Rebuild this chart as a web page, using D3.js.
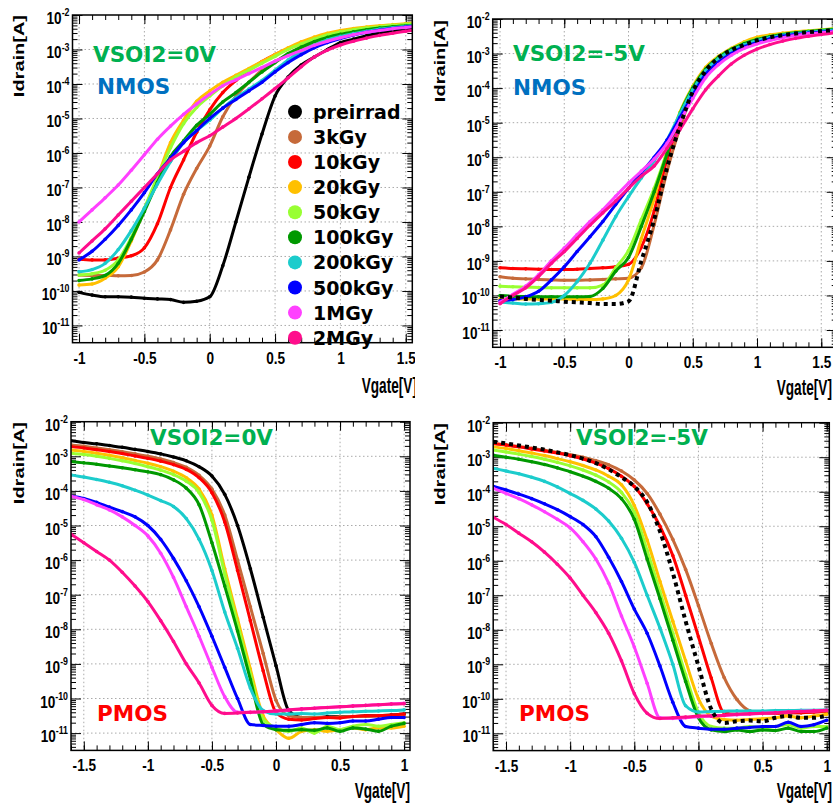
<!DOCTYPE html>
<html>
<head>
<meta charset="utf-8">
<script src="https://cdn.jsdelivr.net/npm/d3@7"></script>
<style>
body { margin: 0; background: #fff; }
</style>
</head>
<body>
<div id="chart"></div>
<script>
var W = 833, H = 806;

// legend / series order
var doses = ["preirrad", "3kGy", "10kGy", "20kGy", "50kGy", "100kGy", "200kGy", "500kGy", "1MGy", "2MGy"];
var doseColors = ["#000000", "#c66a3a", "#ff0000", "#ffc000", "#99ff33", "#009900", "#1ccccc", "#0000ff", "#ff40ff", "#ff0d8c"];

// gate voltage sweeps [V]
var vgateNmos = [-1.0,-0.9,-0.8,-0.7,-0.6,-0.5,-0.4,-0.3,-0.2,-0.1,0.0,0.1,0.2,0.3,0.4,0.5,0.6,0.7,0.8,0.9,1.0,1.1,1.2,1.3,1.4,1.5,1.6];
var vgatePmos = [-1.6,-1.5,-1.4,-1.3,-1.2,-1.1,-1.0,-0.9,-0.8,-0.7,-0.6,-0.5,-0.4,-0.3,-0.2,-0.1,0.0,0.1,0.2,0.3,0.4,0.5,0.6,0.7,0.8,0.9,1.0];

// log10(Idrain [A]), one row per dose (same order as doses)
var logIdNmos0V = [
  [-10.04,-10.12,-10.17,-10.17,-10.18,-10.21,-10.23,-10.25,-10.33,-10.3,-10.17,-9.27,-8.0,-6.7,-5.45,-4.35,-3.8,-3.45,-3.22,-3.0,-2.8,-2.7,-2.6,-2.52,-2.46,-2.4,-2.35],
  [-9.54,-9.55,-9.55,-9.56,-9.55,-9.45,-9.1,-8.23,-7.2,-6.45,-5.8,-4.95,-4.35,-3.95,-3.6,-3.35,-3.15,-2.95,-2.8,-2.7,-2.6,-2.52,-2.46,-2.4,-2.36,-2.32,-2.28],
  [-9.08,-9.1,-9.1,-9.05,-8.98,-8.75,-8.05,-7.0,-6.2,-5.4,-4.75,-4.25,-3.9,-3.6,-3.35,-3.15,-2.98,-2.82,-2.7,-2.6,-2.52,-2.45,-2.4,-2.35,-2.31,-2.28,-2.25],
  [-9.83,-9.8,-9.63,-9.3,-8.55,-7.65,-6.7,-5.7,-5.05,-4.5,-4.2,-3.95,-3.75,-3.55,-3.35,-3.15,-2.95,-2.78,-2.64,-2.53,-2.45,-2.39,-2.35,-2.31,-2.28,-2.25,-2.22],
  [-9.54,-9.5,-9.4,-9.1,-8.45,-7.6,-6.7,-5.85,-5.15,-4.68,-4.35,-4.05,-3.8,-3.6,-3.4,-3.2,-3.0,-2.84,-2.7,-2.58,-2.49,-2.43,-2.38,-2.34,-2.3,-2.27,-2.24],
  [-9.7,-9.65,-9.55,-9.2,-8.5,-7.7,-6.85,-6.1,-5.65,-5.2,-4.88,-4.52,-4.25,-3.95,-3.65,-3.38,-3.12,-2.93,-2.77,-2.65,-2.56,-2.49,-2.43,-2.38,-2.34,-2.31,-2.28],
  [-9.44,-9.38,-9.2,-8.8,-8.25,-7.6,-6.9,-6.25,-5.7,-5.35,-5.05,-4.7,-4.4,-4.15,-3.9,-3.6,-3.3,-3.05,-2.87,-2.72,-2.62,-2.54,-2.47,-2.41,-2.37,-2.33,-2.3],
  [-9.1,-8.85,-8.5,-8.1,-7.65,-7.15,-6.6,-6.15,-5.7,-5.35,-5.0,-4.7,-4.45,-4.2,-3.95,-3.65,-3.38,-3.15,-2.95,-2.8,-2.68,-2.58,-2.5,-2.44,-2.39,-2.35,-2.31],
  [-8.0,-7.65,-7.3,-6.93,-6.5,-6.05,-5.6,-5.22,-4.88,-4.58,-4.3,-4.05,-3.88,-3.7,-3.52,-3.34,-3.18,-3.03,-2.88,-2.76,-2.66,-2.57,-2.5,-2.45,-2.4,-2.36,-2.32],
  [-8.9,-8.55,-8.2,-7.8,-7.4,-7.0,-6.6,-6.2,-5.95,-5.7,-5.5,-5.25,-5.0,-4.72,-4.43,-4.13,-3.82,-3.5,-3.22,-3.02,-2.87,-2.76,-2.67,-2.59,-2.53,-2.47,-2.42]
];

var logIdNmos5V = [
  [-10.03,-10.06,-10.1,-10.13,-10.15,-10.18,-10.2,-10.22,-10.25,-10.25,-10.17,-9.0,-7.8,-6.3,-5.1,-4.1,-3.5,-3.12,-2.9,-2.75,-2.62,-2.53,-2.47,-2.42,-2.38,-2.35,-2.32],
  [-9.46,-9.5,-9.52,-9.54,-9.55,-9.56,-9.56,-9.55,-9.54,-9.52,-9.5,-9.2,-7.95,-6.4,-5.15,-4.15,-3.55,-3.15,-2.92,-2.77,-2.64,-2.55,-2.49,-2.44,-2.4,-2.37,-2.34],
  [-9.2,-9.22,-9.23,-9.24,-9.25,-9.25,-9.24,-9.22,-9.2,-9.17,-9.1,-8.6,-7.55,-6.05,-4.95,-4.08,-3.5,-3.12,-2.9,-2.74,-2.62,-2.53,-2.47,-2.42,-2.38,-2.35,-2.32],
  [-10.1,-10.1,-10.1,-10.1,-10.1,-10.1,-10.12,-10.12,-10.1,-10.0,-9.55,-8.35,-7.2,-5.8,-4.7,-3.95,-3.4,-3.08,-2.85,-2.66,-2.53,-2.46,-2.41,-2.37,-2.34,-2.31,-2.28],
  [-9.73,-9.75,-9.76,-9.77,-9.78,-9.78,-9.78,-9.78,-9.7,-9.2,-8.7,-7.8,-6.9,-5.85,-4.72,-3.98,-3.45,-3.1,-2.87,-2.7,-2.58,-2.5,-2.44,-2.39,-2.35,-2.32,-2.29],
  [-10.0,-10.02,-10.03,-10.04,-10.04,-10.04,-10.04,-10.03,-9.8,-9.3,-8.9,-8.0,-7.0,-5.9,-4.75,-4.0,-3.45,-3.12,-2.88,-2.71,-2.59,-2.51,-2.45,-2.4,-2.36,-2.33,-2.3],
  [-10.2,-10.22,-10.25,-10.24,-10.2,-10.0,-9.6,-9.07,-8.4,-7.72,-7.14,-6.6,-6.1,-5.5,-4.75,-4.05,-3.5,-3.15,-2.92,-2.75,-2.62,-2.54,-2.47,-2.42,-2.38,-2.35,-2.32],
  [-10.15,-10.12,-10.04,-9.88,-9.55,-9.17,-8.73,-8.3,-7.86,-7.37,-6.9,-6.45,-6.0,-5.5,-4.85,-4.2,-3.6,-3.25,-3.0,-2.8,-2.68,-2.58,-2.5,-2.45,-2.41,-2.38,-2.35],
  [-10.2,-9.97,-9.73,-9.4,-9.0,-8.63,-8.24,-7.86,-7.52,-7.13,-6.75,-6.4,-6.05,-5.6,-4.95,-4.3,-3.7,-3.32,-3.05,-2.85,-2.72,-2.62,-2.54,-2.48,-2.43,-2.4,-2.37],
  [-10.24,-10.0,-9.78,-9.45,-9.07,-8.73,-8.35,-7.97,-7.61,-7.27,-6.9,-6.55,-6.25,-5.74,-5.2,-4.6,-4.05,-3.65,-3.3,-3.05,-2.87,-2.74,-2.64,-2.56,-2.5,-2.45,-2.4]
];

var logIdPmos0V = [
  [-2.55,-2.6,-2.64,-2.69,-2.74,-2.8,-2.86,-2.93,-3.02,-3.13,-3.3,-3.57,-4.1,-5.0,-6.25,-7.65,-9.05,-10.35,-10.55,-10.55,-10.53,-10.52,-10.52,-10.5,-10.5,-10.48,-10.45],
  [-2.67,-2.71,-2.76,-2.81,-2.87,-2.93,-3.0,-3.08,-3.18,-3.32,-3.55,-3.95,-4.7,-6.0,-7.35,-8.7,-10.05,-10.5,-10.55,-10.55,-10.55,-10.53,-10.52,-10.52,-10.5,-10.5,-10.5],
  [-2.72,-2.76,-2.81,-2.86,-2.92,-2.99,-3.06,-3.14,-3.24,-3.38,-3.62,-4.05,-4.9,-6.3,-7.75,-9.2,-10.4,-10.6,-10.62,-10.58,-10.55,-10.56,-10.52,-10.5,-10.5,-10.48,-10.45],
  [-2.82,-2.86,-2.91,-2.97,-3.04,-3.12,-3.2,-3.3,-3.43,-3.62,-3.95,-4.7,-6.25,-7.7,-9.15,-10.5,-10.9,-11.15,-10.95,-10.9,-10.95,-10.9,-10.85,-10.9,-10.85,-10.85,-10.8],
  [-2.91,-2.95,-3.0,-3.06,-3.13,-3.21,-3.3,-3.4,-3.53,-3.72,-4.05,-4.85,-6.4,-7.85,-9.3,-10.6,-10.85,-10.95,-10.85,-11.0,-10.8,-10.9,-10.8,-10.75,-10.8,-10.75,-10.7],
  [-3.15,-3.19,-3.23,-3.28,-3.33,-3.39,-3.45,-3.53,-3.68,-3.92,-4.4,-5.5,-6.75,-8.05,-9.45,-10.75,-10.9,-10.92,-10.9,-10.92,-10.85,-10.95,-10.85,-10.88,-10.95,-10.8,-10.72],
  [-3.54,-3.6,-3.67,-3.75,-3.85,-3.98,-4.12,-4.28,-4.45,-4.8,-5.4,-6.3,-7.5,-8.55,-9.7,-10.35,-10.45,-10.45,-10.43,-10.45,-10.42,-10.4,-10.38,-10.37,-10.36,-10.35,-10.33],
  [-4.15,-4.22,-4.33,-4.47,-4.6,-4.75,-5.0,-5.4,-5.95,-6.6,-7.35,-8.2,-9.1,-10.0,-10.75,-10.78,-10.8,-10.8,-10.75,-10.7,-10.72,-10.7,-10.65,-10.65,-10.6,-10.55,-10.55],
  [-4.15,-4.25,-4.4,-4.55,-4.75,-5.0,-5.3,-5.8,-6.5,-7.35,-8.2,-9.1,-9.95,-10.4,-10.4,-10.38,-10.36,-10.33,-10.3,-10.28,-10.26,-10.24,-10.22,-10.2,-10.18,-10.16,-10.14],
  [-5.25,-5.5,-5.75,-6.0,-6.35,-6.75,-7.2,-7.75,-8.35,-9.0,-9.55,-10.2,-10.43,-10.42,-10.4,-10.38,-10.36,-10.33,-10.3,-10.28,-10.26,-10.24,-10.22,-10.2,-10.18,-10.16,-10.15]
];

var logIdPmos5V = [
  [-2.55,-2.6,-2.66,-2.72,-2.78,-2.86,-2.94,-3.04,-3.17,-3.35,-3.58,-3.85,-4.3,-5.15,-6.35,-7.75,-9.05,-10.3,-10.7,-10.65,-10.63,-10.65,-10.55,-10.5,-10.55,-10.55,-10.48],
  [-2.6,-2.64,-2.69,-2.74,-2.8,-2.86,-2.93,-3.0,-3.1,-3.22,-3.4,-3.66,-4.05,-4.65,-5.38,-6.25,-7.3,-8.4,-9.38,-10.02,-10.35,-10.42,-10.42,-10.4,-10.4,-10.38,-10.35],
  [-2.6,-2.65,-2.7,-2.76,-2.82,-2.88,-2.96,-3.05,-3.17,-3.33,-3.55,-3.85,-4.35,-5.0,-5.85,-7.0,-8.2,-9.4,-10.4,-10.45,-10.43,-10.42,-10.42,-10.4,-10.4,-10.38,-10.35],
  [-2.7,-2.75,-2.81,-2.88,-2.95,-3.04,-3.13,-3.24,-3.37,-3.55,-3.8,-4.4,-5.4,-6.6,-7.75,-8.9,-10.0,-10.5,-10.6,-10.62,-10.6,-10.58,-10.55,-10.5,-10.55,-10.5,-10.45],
  [-2.79,-2.85,-2.91,-2.98,-3.06,-3.15,-3.25,-3.37,-3.52,-3.72,-4.02,-4.6,-5.7,-6.9,-8.1,-9.3,-10.4,-10.8,-10.85,-10.85,-10.8,-10.85,-10.8,-10.75,-10.85,-10.8,-10.8],
  [-2.94,-3.0,-3.06,-3.13,-3.21,-3.31,-3.42,-3.55,-3.7,-3.9,-4.2,-4.8,-5.95,-7.1,-8.3,-9.5,-10.55,-10.9,-10.95,-10.9,-10.95,-10.9,-10.92,-10.85,-10.95,-10.95,-10.85],
  [-3.32,-3.4,-3.48,-3.58,-3.7,-3.86,-4.05,-4.25,-4.5,-4.85,-5.35,-6.05,-7.0,-7.95,-9.0,-10.2,-10.38,-10.37,-10.36,-10.35,-10.35,-10.35,-10.34,-10.34,-10.33,-10.33,-10.32],
  [-3.84,-3.95,-4.07,-4.2,-4.35,-4.52,-4.72,-4.95,-5.3,-5.9,-6.6,-7.4,-8.1,-9.05,-10.1,-10.8,-10.85,-10.88,-10.88,-10.85,-10.83,-10.8,-10.8,-10.68,-10.8,-10.75,-10.62],
  [-3.9,-4.05,-4.2,-4.38,-4.58,-4.8,-5.05,-5.45,-5.95,-6.65,-7.6,-8.5,-9.55,-10.55,-10.57,-10.55,-10.52,-10.5,-10.48,-10.46,-10.44,-10.42,-10.4,-10.38,-10.36,-10.35,-10.33],
  [-4.74,-4.95,-5.2,-5.45,-5.75,-6.1,-6.5,-7.0,-7.5,-8.1,-8.9,-9.85,-10.42,-10.57,-10.55,-10.53,-10.5,-10.5,-10.48,-10.45,-10.43,-10.42,-10.4,-10.38,-10.37,-10.35,-10.33]
];

var xTicksNmos = [-1, -0.5, 0, 0.5, 1, 1.5];
var xTicksPmos = [-1.5, -1, -0.5, 0, 0.5, 1];
var decades = [-11, -10, -9, -8, -7, -6, -5, -4, -3, -2];

var tickFont = "bold 17px 'Liberation Sans', Arial, sans-serif";
var annoFont = "'DejaVu Sans', Verdana, sans-serif";

var svg = d3.select("#chart").append("svg")
    .attr("width", W)
    .attr("height", H)
    .style("background", "#fff");

var defs = svg.append("defs");

var panels = [
  { id: "tl", data: logIdNmos0V, vg: vgateNmos, xTicks: xTicksNmos,
    xDom: [-1.05, 1.55], xRange: [72.5, 412.3], top: 15, bottom: 342.7,
    clip: [0, 0, 415, 400], dotted: false,
    ylab: [24, 15], xlab: [417, 393],
    vsoi: ["VSOI2=0V", 93, 62], type: ["NMOS", "#0070c0", 97, 94] },
  { id: "tr", data: logIdNmos5V, vg: vgateNmos, xTicks: xTicksNmos,
    xDom: [-1.057, 1.62], xRange: [492.7, 836.7], top: 19, bottom: 347.3,
    clip: [420, 0, 413, 400], dotted: true,
    ylab: [445, 20], xlab: [832, 395],
    vsoi: ["VSOI2=-5V", 513, 61], type: ["NMOS", "#0070c0", 513, 95] },
  { id: "bl", data: logIdPmos0V, vg: vgatePmos, xTicks: xTicksPmos,
    xDom: [-1.6, 1.046], xRange: [71, 410], top: 421.7, bottom: 750.4,
    clip: [0, 400, 420, 406], dotted: false,
    ylab: [24, 422], xlab: [410, 798],
    vsoi: ["VSOI2=0V", 150, 445], type: ["PMOS", "#ff0000", 97, 721] },
  { id: "br", data: logIdPmos5V, vg: vgatePmos, xTicks: xTicksPmos,
    xDom: [-1.6, 1.02], xRange: [493.2, 829.3], top: 422.7, bottom: 750.6,
    clip: [420, 400, 413, 406], dotted: true,
    ylab: [445, 423], xlab: [832, 798],
    vsoi: ["VSOI2=-5V", 576, 445], type: ["PMOS", "#ff0000", 519, 721] }
];

panels.forEach(drawPanel);
drawLegend();

function drawPanel(p) {
  var x = d3.scaleLinear().domain(p.xDom).range(p.xRange);
  var y = d3.scaleLog().domain([Math.pow(10, -11.5), 1e-2]).range([p.bottom, p.top]);
  var left = p.xRange[0], right = p.xRange[1];

  defs.append("clipPath").attr("id", "clip-" + p.id).append("rect")
      .attr("x", p.clip[0]).attr("y", p.clip[1]).attr("width", p.clip[2]).attr("height", p.clip[3]);
  defs.append("clipPath").attr("id", "plot-" + p.id).append("rect")
      .attr("x", left).attr("y", p.top).attr("width", right - left).attr("height", p.bottom - p.top);

  var g = svg.append("g").attr("clip-path", "url(#clip-" + p.id + ")");

  // dotted grid
  var grid = g.append("g").attr("stroke", "#aaa").attr("stroke-width", 1).attr("stroke-dasharray", "1.5,2.5");
  grid.selectAll("line.gx").data(p.xTicks.filter(function (v) { return x(v) > left + 1 && x(v) < right - 1; }))
    .enter().append("line")
      .attr("x1", function (d) { return x(d); }).attr("x2", function (d) { return x(d); })
      .attr("y1", p.top).attr("y2", p.bottom);
  grid.selectAll("line.gy").data(decades.slice(0, -1))
    .enter().append("line")
      .attr("y1", function (d) { return y(Math.pow(10, d)); }).attr("y2", function (d) { return y(Math.pow(10, d)); })
      .attr("x1", left).attr("x2", right);

  // minor tick positions
  var xMinor = d3.range(Math.ceil(p.xDom[0] * 10), Math.floor(p.xDom[1] * 10) + 1).map(function (k) { return k / 10; });
  var yMinor = [];
  for (var e = -12; e <= -3; e++) {
    for (var m = 2; m <= 9; m++) {
      var v = m * Math.pow(10, e);
      if (v >= Math.pow(10, -11.5) && v <= 1e-2) yMinor.push(v);
    }
  }
  var yMajor = decades.map(function (d) { return Math.pow(10, d); });

  var axes = g.append("g");
  function addAxis(axis, tx, ty) {
    var a = axes.append("g").attr("transform", "translate(" + tx + "," + ty + ")").call(axis);
    a.select(".domain").remove();
    a.selectAll("line").attr("stroke", "#000").attr("stroke-width", 1);
    return a;
  }
  var none = function () { return ""; };
  addAxis(d3.axisBottom(x).tickValues(xMinor).tickSize(-5).tickFormat(none), 0, p.bottom);
  addAxis(d3.axisTop(x).tickValues(xMinor).tickSize(-5).tickFormat(none), 0, p.top);
  addAxis(d3.axisTop(x).tickValues(p.xTicks).tickSize(-9).tickFormat(none), 0, p.top);
  var xa = addAxis(d3.axisBottom(x).tickValues(p.xTicks).tickSize(-9).tickPadding(9)
      .tickFormat(function (d) { return String(d); }), 0, p.bottom);
  xa.selectAll("text").attr("fill", "#000").style("font", tickFont).attr("transform", "scale(0.8,1)");

  addAxis(d3.axisLeft(y).tickValues(yMinor).tickSize(-5).tickFormat(none), left, 0);
  addAxis(d3.axisLeft(y).tickValues(yMajor).tickSize(-10).tickFormat(none), left, 0);
  addAxis(d3.axisRight(y).tickValues(yMinor).tickSize(-5).tickFormat(none), right, 0);
  addAxis(d3.axisRight(y).tickValues(yMajor).tickSize(-10).tickFormat(none), right, 0);

  // 10^n labels
  decades.forEach(function (d) {
    var t = g.append("text")
        .attr("transform", "translate(" + (left - 3) + "," + (y(Math.pow(10, d)) + 9) + ") scale(0.8,1)")
        .attr("text-anchor", "end")
        .style("font", tickFont);
    t.append("tspan").text("10");
    t.append("tspan").attr("dy", -8).style("font-size", "11px").text(String(d));
  });

  // curves
  var plot = g.append("g").attr("clip-path", "url(#plot-" + p.id + ")");
  var line = d3.line()
      .curve(d3.curveMonotoneX)
      .x(function (d) { return x(d[0]); })
      .y(function (d) { return y(Math.pow(10, d[1])); });
  var order = p.dotted ? [1, 2, 3, 4, 5, 6, 7, 8, 9, 0] : [0, 1, 2, 3, 4, 5, 6, 7, 8, 9];
  order.forEach(function (k) {
    var pts = p.vg.map(function (v, i) { return [v, p.data[k][i]]; });
    var isDot = p.dotted && k === 0;
    plot.append("path")
        .attr("d", line(pts))
        .attr("fill", "none")
        .attr("stroke", doseColors[k])
        .attr("stroke-width", isDot ? 4 : 3)
        .attr("stroke-dasharray", isDot ? "4,4" : null)
        .attr("stroke-linejoin", "round");
    if (!isDot) {
      plot.append("g").selectAll("circle").data(pts).enter().append("circle")
          .attr("cx", function (d) { return x(d[0]); })
          .attr("cy", function (d) { return y(Math.pow(10, d[1])); })
          .attr("r", 1.8)
          .attr("fill", doseColors[k]);
    }
  });

  // frame
  g.append("rect")
      .attr("x", left).attr("y", p.top)
      .attr("width", right - left).attr("height", p.bottom - p.top)
      .attr("fill", "none").attr("stroke", "#000").attr("stroke-width", 1.5);

  // axis titles
  g.append("text")
      .attr("transform", "translate(" + p.ylab[0] + "," + p.ylab[1] + ") rotate(-90) scale(1,0.75)")
      .attr("text-anchor", "end")
      .style("font", "bold 20px 'Liberation Sans', Arial, sans-serif")
      .text("Idrain[A]");
  g.append("text")
      .attr("transform", "translate(" + p.xlab[0] + "," + p.xlab[1] + ") scale(0.62,1)")
      .attr("text-anchor", "end")
      .style("font", "bold 22px 'Liberation Sans', Arial, sans-serif")
      .text("Vgate[V]");

  // annotations
  g.append("text")
      .attr("x", p.vsoi[1]).attr("y", p.vsoi[2])
      .attr("fill", "#00b050")
      .style("font-family", annoFont).style("font-weight", "bold").style("font-size", "21.5px")
      .text(p.vsoi[0]);
  g.append("text")
      .attr("x", p.type[2]).attr("y", p.type[3])
      .attr("fill", p.type[1])
      .style("font-family", annoFont).style("font-weight", "bold").style("font-size", "21.5px")
      .text(p.type[0]);
}

function drawLegend() {
  var lg = svg.append("g").attr("clip-path", "url(#clip-tl)");
  var row = lg.selectAll("g.item").data(doses).enter().append("g")
      .attr("transform", function (d, i) { return "translate(295," + (111.8 + i * 25.1) + ")"; });
  row.append("circle").attr("r", 7).attr("fill", function (d, i) { return doseColors[i]; });
  row.append("text")
      .attr("x", 18).attr("y", 7)
      .style("font-family", annoFont).style("font-weight", "bold").style("font-size", "19px")
      .attr("fill", "#000")
      .text(function (d) { return d; });
}
</script>
</body>
</html>
